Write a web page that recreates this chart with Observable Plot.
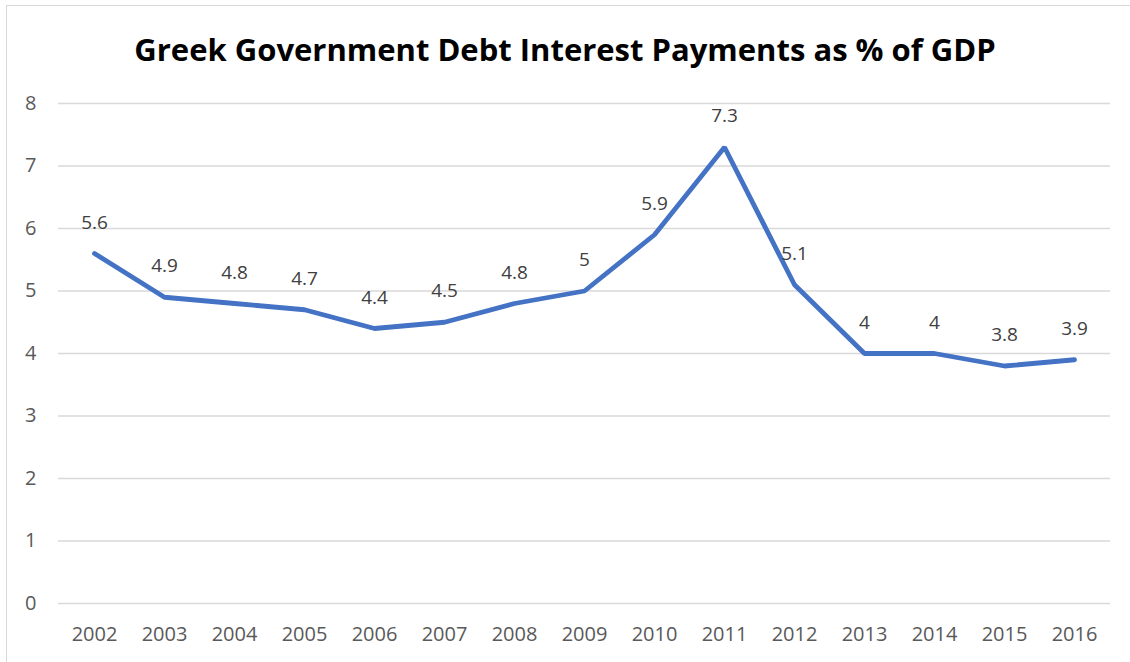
<!DOCTYPE html>
<html>
<head>
<meta charset="utf-8">
<script src="https://cdn.jsdelivr.net/npm/d3@7"></script>
<script src="https://cdn.jsdelivr.net/npm/@observablehq/plot@0.6"></script>
<style>
  body { margin: 0; background: #fff; }
  #wrap { position: relative; width: 1130px; height: 662px; overflow: hidden; background: #fff; }
  #frame { position: absolute; left: 6px; top: 5px; width: 1200px; height: 800px; border-left: 1.5px solid #d9d9d9; border-top: 1.5px solid #d9d9d9; }
  #title { position: relative; height: 80px; box-sizing: border-box; padding-top: 31px; text-align: center; font-family: "Open Sans", sans-serif; font-weight: 700; font-size: 31px; line-height: 36px; color: #000; }
  #chart { position: relative; }
</style>
</head>
<body>
<div id="wrap">
  <div id="frame"></div>
  <div id="title">Greek Government Debt Interest Payments as % of GDP</div>
  <div id="chart"></div>
</div>
<script>
const years = ["2002","2003","2004","2005","2006","2007","2008","2009","2010","2011","2012","2013","2014","2015","2016"];
const values = [5.6, 4.9, 4.8, 4.7, 4.4, 4.5, 4.8, 5.0, 5.9, 7.3, 5.1, 4.0, 4.0, 3.8, 3.9];
const yTicks = [0, 1, 2, 3, 4, 5, 6, 7, 8];

const data = years.map((y, i) => ({year: y, value: values[i]}));

const chart = Plot.plot({
  width: 1130,
  height: 582,
  marginTop: 23,
  marginBottom: 59,
  marginLeft: 58,
  marginRight: 20,
  style: { fontFamily: "'Open Sans', sans-serif", fontSize: "20px", color: "#595959", background: "transparent" },
  x: { type: "point", domain: years, padding: 0.5, label: null, tickSize: 0, tickPadding: 23 },
  y: { domain: [0, 8], ticks: yTicks, label: null, tickSize: 0, tickPadding: 22 },
  marks: [
    Plot.ruleY(yTicks, { stroke: "#d9d9d9", strokeWidth: 1.5 }),
    Plot.line(data, { x: "year", y: "value", stroke: "#4472C4", strokeWidth: 4.8, strokeLinejoin: "miter", curve: "linear" }),
    Plot.text(data, { x: "year", y: "value", text: d => String(d.value), dy: -31, fill: "#404040", fontSize: 19 })
  ]
});
document.getElementById("chart").appendChild(chart);
</script>
</body>
</html>
